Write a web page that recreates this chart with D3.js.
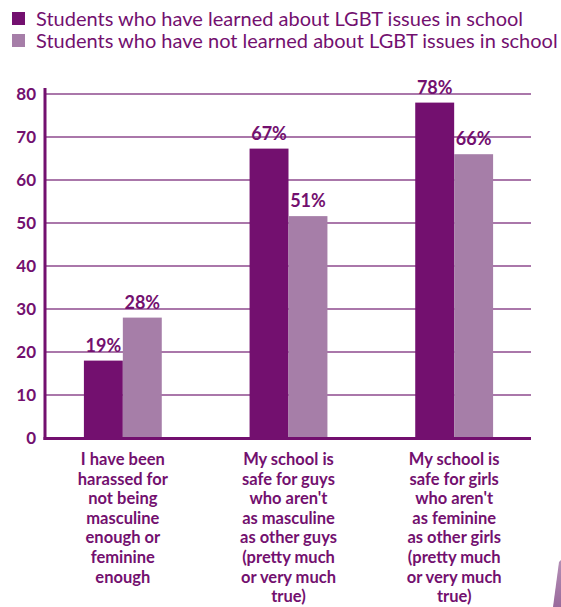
<!DOCTYPE html>
<html>
<head>
<meta charset="utf-8">
<script src="https://cdn.jsdelivr.net/npm/d3@7"></script>
<style>
  body { margin: 0; background: #fff; }
  svg { display: block; font-family: Lato, "Open Sans", sans-serif; }
</style>
</head>
<body>
<div id="chart"></div>
<script>
// chart data
const categories = ["harassed", "safeGuys", "safeGirls"];
const categoryLines = [
    ["I have been", "harassed for", "not being", "masculine", "enough or", "feminine", "enough"],
    ["My school is", "safe for guys", "who aren't", "as masculine", "as other guys", "(pretty much", "or very much", "true)"],
    ["My school is", "safe for girls", "who aren't", "as feminine", "as other girls", "(pretty much", "or very much", "true)"]
];
const seriesNames = [
    "Students who have learned about LGBT issues in school",
    "Students who have not learned about LGBT issues in school"
];
const learnedValues = [18, 67.3, 78];
const notLearnedValues = [28, 51.6, 66];
const learnedLabels = ["19%", "67%", "78%"];
const notLearnedLabels = ["28%", "51%", "66%"];
const yTicks = [0, 10, 20, 30, 40, 50, 60, 70, 80];

const dark = "#73106f";
const light = "#a67ea8";
const gridColor = "#8e4a8e";

const width = 561, height = 607;

const svg = d3.select("#chart").append("svg")
    .attr("width", width)
    .attr("height", height);

// scales
const x = d3.scaleBand()
    .domain(categories)
    .range([40, 537])
    .paddingInner(0.53)
    .paddingOuter(0.265);

const xSub = d3.scaleBand()
    .domain([0, 1])
    .range([0, x.bandwidth()]);

const y = d3.scaleLinear()
    .domain([0, 80])
    .range([438, 94]);

// gridlines
svg.append("g")
    .selectAll("line")
    .data(yTicks.filter(d => d > 0))
    .join("line")
    .attr("x1", 45)
    .attr("x2", 531)
    .attr("y1", d => y(d))
    .attr("y2", d => y(d))
    .attr("stroke", gridColor)
    .attr("stroke-width", 1.6);

// y axis
const yAxis = svg.append("g")
    .attr("transform", "translate(45,0)")
    .call(d3.axisLeft(y).tickValues(yTicks).tickSize(0).tickPadding(9));
yAxis.select(".domain").remove();
yAxis.selectAll("text")
    .attr("fill", dark)
    .style("font-size", "17px")
    .style("font-weight", "bold")
    .style("font-family", "Lato, sans-serif");

// bars
const rows = categories.map((c, i) => ({
    cat: c,
    vals: [
        { s: 0, v: learnedValues[i], label: learnedLabels[i] },
        { s: 1, v: notLearnedValues[i], label: notLearnedLabels[i] }
    ]
}));

const groups = svg.append("g")
    .selectAll("g")
    .data(rows)
    .join("g")
    .attr("transform", d => `translate(${x(d.cat)},0)`);

groups.selectAll("rect")
    .data(d => d.vals)
    .join("rect")
    .attr("x", d => xSub(d.s))
    .attr("width", xSub.bandwidth())
    .attr("y", d => y(d.v))
    .attr("height", d => y(0) - y(d.v))
    .attr("fill", d => d.s === 0 ? dark : light);

groups.selectAll("text.value")
    .data(d => d.vals)
    .join("text")
    .attr("class", "value")
    .attr("x", d => xSub(d.s) + xSub.bandwidth() / 2)
    .attr("y", d => y(d.v) - 9)
    .attr("text-anchor", "middle")
    .attr("fill", dark)
    .style("font-size", "18px")
    .style("font-weight", "bold")
    .text(d => d.label);

// axis lines
svg.append("line")
    .attr("x1", 45).attr("x2", 45)
    .attr("y1", 88).attr("y2", 440)
    .attr("stroke", dark)
    .attr("stroke-width", 3);

svg.append("line")
    .attr("x1", 43.5).attr("x2", 531)
    .attr("y1", 438.5).attr("y2", 438.5)
    .attr("stroke", dark)
    .attr("stroke-width", 3);

// category labels
groups.append("text")
    .attr("text-anchor", "middle")
    .attr("fill", dark)
    .style("font-size", "16.5px")
    .style("font-weight", "bold")
    .selectAll("tspan")
    .data((d, i) => categoryLines[i])
    .join("tspan")
    .attr("x", x.bandwidth() / 2)
    .attr("y", (d, i) => 465 + i * 19.6)
    .text(d => d);

// legend
const legend = svg.append("g")
    .selectAll("g")
    .data(seriesNames)
    .join("g")
    .attr("transform", (d, i) => `translate(12,${12 + i * 22})`);

legend.append("rect")
    .attr("width", 13)
    .attr("height", 13)
    .attr("fill", (d, i) => i === 0 ? dark : light);

legend.append("text")
    .attr("x", 24)
    .attr("y", 13.5)
    .attr("fill", dark)
    .style("font-size", "20px")
    .text(d => d);

// page corner decoration
const grad = svg.append("defs").append("linearGradient")
    .attr("id", "corner")
    .attr("x1", 0).attr("y1", 0).attr("x2", 0).attr("y2", 1);
grad.append("stop").attr("offset", "0%").attr("stop-color", "#b48fb6");
grad.append("stop").attr("offset", "100%").attr("stop-color", "#9a6a9c");

svg.append("path")
    .attr("d", "M559,562 L561,560 L561,607 L553,607 Z")
    .attr("fill", "url(#corner)");
</script>
</body>
</html>
